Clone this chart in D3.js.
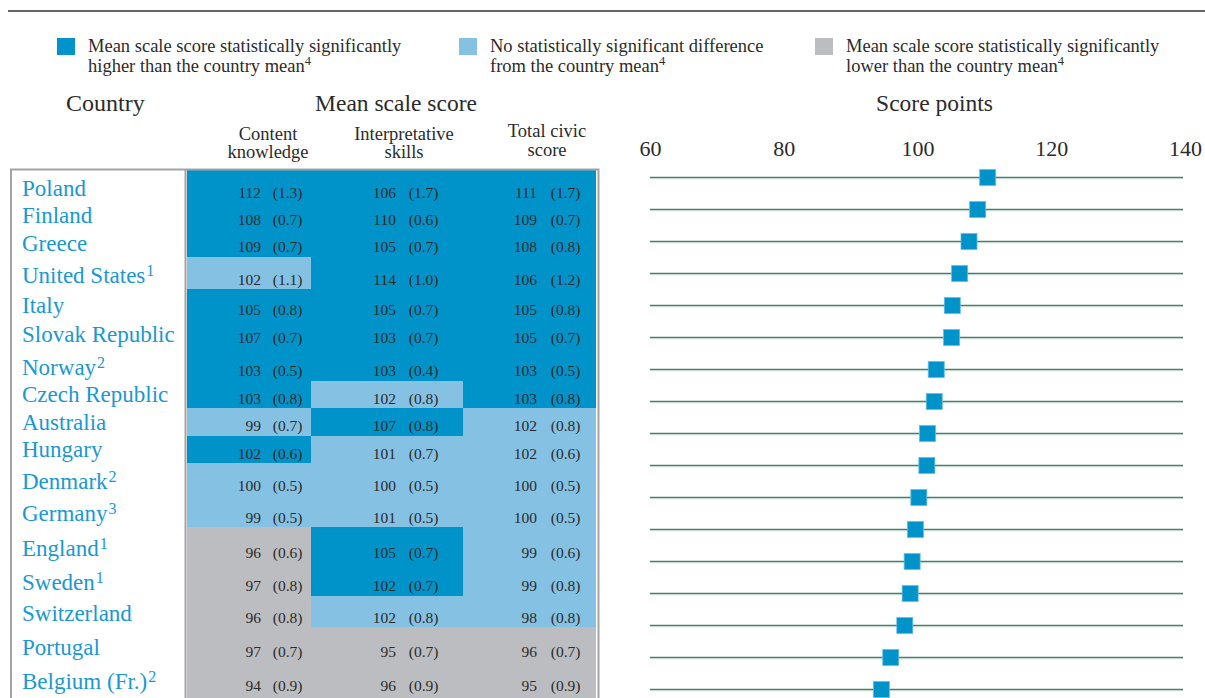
<!DOCTYPE html>
<html>
<head>
<meta charset="utf-8">
<script src="https://cdn.jsdelivr.net/npm/d3@7"></script>
<style>
  html, body { margin: 0; padding: 0; background: #fff; }
  svg { display: block; font-family: "Liberation Serif", "DejaVu Serif", serif; }
</style>
</head>
<body>
<svg id="chart" width="1205" height="698"></svg>
<script>
// ---------------- DATA ----------------
const countries = ["Poland","Finland","Greece","United States","Italy","Slovak Republic","Norway","Czech Republic","Australia","Hungary","Denmark","Germany","England","Sweden","Switzerland","Portugal","Belgium (Fr.)"];
const footnotes = ["","","","1","","","2","","","","2","3","1","1","","","2"];

const contentScore = [112,108,109,102,105,107,103,103,99,102,100,99,96,97,96,97,94];
const contentSE    = ["1.3","0.7","0.7","1.1","0.8","0.7","0.5","0.8","0.7","0.6","0.5","0.5","0.6","0.8","0.8","0.7","0.9"];
const contentSig   = ["H","H","H","N","H","H","H","H","N","H","N","N","L","L","L","L","L"];

const interpScore  = [106,110,105,114,105,103,103,102,107,101,100,101,105,102,102,95,96];
const interpSE     = ["1.7","0.6","0.7","1.0","0.7","0.7","0.4","0.8","0.8","0.7","0.5","0.5","0.7","0.7","0.8","0.7","0.9"];
const interpSig    = ["H","H","H","H","H","H","H","N","H","N","N","N","H","H","N","L","L"];

const totalScore   = [111,109,108,106,105,105,103,103,102,102,100,100,99,99,98,96,95];
const totalSE      = ["1.7","0.7","0.8","1.2","0.8","0.7","0.5","0.8","0.8","0.6","0.5","0.5","0.6","0.8","0.8","0.7","0.9"];
const totalSig     = ["H","H","H","H","H","H","H","H","N","N","N","N","N","N","N","L","L"];

// total civic score (unrounded)
const pointValues  = [110.5,109.0,107.7,106.3,105.2,105.1,102.8,102.5,101.5,101.4,100.2,99.7,99.2,98.9,98.1,96.0,94.6];

const axisTicks = [60,80,100,120,140];
const columnHeaders = [["Content","knowledge"],["Interpretative","skills"],["Total civic","score"]];
const legendLabels = [
  ["Mean scale score statistically significantly","higher than the country mean"],
  ["No statistically significant difference","from the country mean"],
  ["Mean scale score statistically significantly","lower than the country mean"]
];
const legendKeys = ["H","N","L"];

// ---------------- LAYOUT / STYLE ----------------
const colors = { H: "#0093c9", N: "#84c1e3", L: "#bcbdc0" };
const countryColor = "#1a98d3";
const textColor = "#2b2b2b";
const rowHeights = [32,27,27.7,32.3,30,28.5,33.2,27.6,27.4,27.6,31.7,32.3,34.7,33.7,31.6,33.7,34];
const tableTop = 170;

const svg = d3.select("#chart");

// top rule
svg.append("line").attr("x1", 8).attr("x2", 1205).attr("y1", 11).attr("y2", 11)
  .attr("stroke", "#333").attr("stroke-width", 1.5);

// legend
const legendX = d3.scaleOrdinal().domain(legendKeys).range([57, 459, 815]);
legendKeys.forEach((k, i) => {
  const g = svg.append("g").attr("transform", `translate(${legendX(k)},0)`);
  g.append("rect").attr("x", 0).attr("y", 38).attr("width", 18).attr("height", 17).attr("fill", colors[k]);
  const t = g.append("text").attr("x", 31).attr("y", 51.5).attr("font-size", 18.5).attr("fill", textColor);
  t.text(legendLabels[i][0]);
  const t2 = g.append("text").attr("x", 31).attr("y", 72).attr("font-size", 18.5).attr("fill", textColor);
  t2.append("tspan").text(legendLabels[i][1]);
  t2.append("tspan").attr("dy", -7).attr("font-size", 12.5).text("4");
});

// headings
svg.append("text").attr("x", 66).attr("y", 111).attr("font-size", 24).attr("fill", textColor).text("Country");
svg.append("text").attr("x", 396).attr("y", 111).attr("text-anchor", "middle").attr("font-size", 23.5).attr("fill", textColor).text("Mean scale score");
svg.append("text").attr("x", 934.5).attr("y", 111).attr("text-anchor", "middle").attr("font-size", 23.5).attr("fill", textColor).text("Score points");

// table columns
const colEdges = [187, 311, 463, 596];
const colValueEnd = [261, 396, 537];
const colSEEnd = [302.5, 438.5, 580.5];
const colHeaderCenter = [268, 404, 547];
const colHeaderY = [[140,158],[139.5,157.5],[137,156]];
columnHeaders.forEach((h, c) => {
  h.forEach((line, j) => {
    svg.append("text").attr("x", colHeaderCenter[c]).attr("y", colHeaderY[c][j])
      .attr("text-anchor", "middle").attr("font-size", 18.5).attr("fill", textColor).text(line);
  });
});

// row positions
const rowEdges = [tableTop, ...Array.from(d3.cumsum(rowHeights), v => tableTop + v)];
const rows = countries.map((c, i) => ({
  country: c, fn: footnotes[i], top: rowEdges[i], bottom: rowEdges[i+1],
  last: i === countries.length - 1,
  cells: [
    { v: contentScore[i], se: contentSE[i], sig: contentSig[i] },
    { v: interpScore[i],  se: interpSE[i],  sig: interpSig[i] },
    { v: totalScore[i],   se: totalSE[i],   sig: totalSig[i] }
  ]
}));

const tableG = svg.append("g");
// cells
rows.forEach(r => {
  r.cells.forEach((cell, c) => {
    tableG.append("rect")
      .attr("x", colEdges[c]).attr("y", r.top)
      .attr("width", colEdges[c+1] - colEdges[c]).attr("height", r.bottom - r.top + (r.last ? 10 : 0.5))
      .attr("fill", colors[cell.sig]).attr("shape-rendering", "crispEdges");
    tableG.append("text").attr("x", colValueEnd[c]).attr("y", r.bottom - 4.3)
      .attr("text-anchor", "end").attr("font-size", 15.5).attr("fill", textColor).text(cell.v);
    tableG.append("text").attr("x", colSEEnd[c]).attr("y", r.bottom - 4.3)
      .attr("text-anchor", "end").attr("font-size", 15.5).attr("fill", textColor).text(`(${cell.se})`);
  });
  const t = tableG.append("text").attr("x", 22).attr("y", r.bottom - 6)
    .attr("font-size", 23).attr("fill", countryColor);
  t.append("tspan").text(r.country);
  if (r.fn) t.append("tspan").attr("dx", 1).attr("dy", -7).attr("font-size", 16).text(r.fn);
});

// table borders
const borderColor = "#a3a3a3";
tableG.append("path")
  .attr("d", `M11,702 V169.5 H598.5 V702`)
  .attr("fill", "none").attr("stroke", borderColor).attr("stroke-width", 2);
tableG.append("line").attr("x1", 185.5).attr("x2", 185.5).attr("y1", 169.5).attr("y2", 702)
  .attr("stroke", borderColor).attr("stroke-width", 2);

// ---------------- DOT CHART ----------------
const x = d3.scaleLinear().domain([60, 140]).range([650, 1185]);
const y = d3.scalePoint().domain(countries).range([177.5, 689.5]);

const axis = d3.axisTop(x).tickValues(axisTicks).tickSize(0).tickPadding(0).tickFormat(d3.format("d"));
const axG = svg.append("g").attr("transform", "translate(0,156)").call(axis);
axG.select(".domain").remove();
axG.selectAll("text").attr("font-size", 22).attr("fill", textColor)
  .attr("font-family", "Liberation Serif, serif").attr("dy", 0);

const dots = svg.append("g");
dots.selectAll("line.row").data(countries).join("line")
  .attr("class", "row")
  .attr("x1", x(60)).attr("x2", x(140) - 2)
  .attr("y1", d => y(d)).attr("y2", d => y(d))
  .attr("stroke", "#4e7b66").attr("stroke-width", 1.5);
dots.selectAll("line.glow").data(countries).join("line")
  .attr("class", "glow")
  .attr("x1", x(60)).attr("x2", x(140) - 2)
  .attr("y1", d => y(d) + 1.2).attr("y2", d => y(d) + 1.2)
  .attr("stroke", "#b9d8c9").attr("stroke-width", 0.8);
dots.selectAll("rect.pt").data(countries).join("rect")
  .attr("class", "pt")
  .attr("x", (d, i) => x(pointValues[i]) - 8)
  .attr("y", d => y(d) - 8)
  .attr("width", 16).attr("height", 16)
  .attr("fill", "#0093c9").attr("stroke", "#63bde6").attr("stroke-width", 0.8);
</script>
</body>
</html>
